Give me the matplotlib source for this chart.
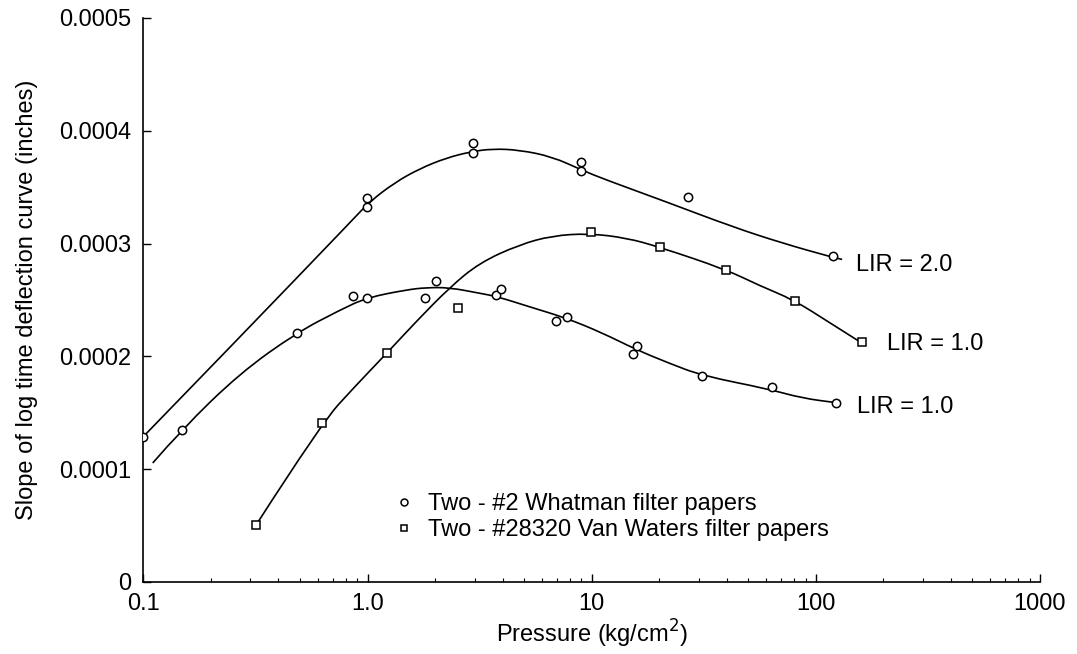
import matplotlib
matplotlib.use("Agg")
import matplotlib.pyplot as plt
import numpy as np
from matplotlib.lines import Line2D
from matplotlib.path import Path
from matplotlib.patches import PathPatch
from matplotlib.ticker import FixedLocator, LogLocator, NullFormatter, NullLocator

plt.rcParams['font.family'] = ['Liberation Sans', 'DejaVu Sans']

# measured points (slope values in units of 1e-4 inches)
whatman_20_x = [0.1, 0.99, 0.99, 2.94, 2.94, 8.98, 8.98, 26.9, 119]
whatman_20_y = [1.285, 3.40, 3.32, 3.89, 3.80, 3.72, 3.64, 3.41, 2.89]

whatman_10_x = [0.148, 0.483, 0.86, 0.99, 1.81, 2.01, 3.76, 3.95, 6.95, 7.78, 15.3, 15.9, 31, 63.9, 123]
whatman_10_y = [1.35, 2.21, 2.535, 2.52, 2.52, 2.67, 2.54, 2.60, 2.31, 2.35, 2.02, 2.09, 1.83, 1.73, 1.59]

vanwaters_x = [0.317, 0.624, 1.22, 2.52, 9.95, 20.2, 39.7, 80.6, 160]
vanwaters_y = [0.505, 1.41, 2.03, 2.43, 3.10, 2.97, 2.77, 2.49, 2.13]

# fitted curves
curve_20_x = [0.1, 0.269, 0.857, 1.02, 1.32, 1.71, 2.25, 2.90, 3.60, 4.75, 6.67, 9.07, 11.4, 21.5, 42.3, 70.6, 118, 131]
curve_20_y = [1.29, 2.17, 3.21, 3.37, 3.54, 3.665, 3.76, 3.815, 3.84, 3.83, 3.77, 3.65, 3.57, 3.37, 3.15, 3.005, 2.88, 2.86]

curve_10_x = [0.110, 0.148, 0.269, 0.483, 0.751, 0.99, 1.49, 1.83, 2.32, 3.16, 3.79, 5.27, 7.69, 11.1, 15.8, 22.1, 31.0, 61.7, 86.7, 123]
curve_10_y = [1.055, 1.35, 1.85, 2.21, 2.41, 2.52, 2.59, 2.61, 2.61, 2.56, 2.53, 2.44, 2.34, 2.21, 2.06, 1.94, 1.83, 1.71, 1.63, 1.59]

curve_vw_x = [0.324, 0.624, 0.875, 1.22, 1.65, 2.32, 3.16, 4.75, 6.67, 9.75, 14.3, 20.0, 39.7, 55.7, 79.8, 114, 160]
curve_vw_y = [0.53, 1.41, 1.73, 2.03, 2.31, 2.61, 2.83, 2.99, 3.07, 3.09, 3.05, 2.97, 2.77, 2.63, 2.50, 2.305, 2.12]

x_ticks = [0.1, 1, 10, 100, 1000]
x_tick_labels = ["0.1", "1.0", "10", "100", "1000"]
y_ticks = [0, 1e-4, 2e-4, 3e-4, 4e-4, 5e-4]
y_tick_labels = ["0", "0.0001", "0.0002", "0.0003", "0.0004", "0.0005"]

labels = ["LIR = 2.0", "LIR = 1.0", "LIR = 1.0"]
label_x = [151, 207, 152]
label_y = [2.81, 2.11, 1.55]

legend_labels = ["Two - #2 Whatman filter papers", "Two - #28320 Van Waters filter papers"]


def smooth_curve(xs, ys):
    # quadratic bezier through the knots (knots act as control points)
    ys = [v * 1e-4 for v in ys]
    lx = np.log10(xs)
    verts = [(xs[0], ys[0])]
    codes = [Path.MOVETO]
    for i in range(1, len(xs) - 1):
        mx = 10 ** ((lx[i] + lx[i + 1]) / 2)
        my = (ys[i] + ys[i + 1]) / 2
        verts += [(xs[i], ys[i]), (mx, my)]
        codes += [Path.CURVE3, Path.CURVE3]
    verts.append((xs[-1], ys[-1]))
    codes.append(Path.LINETO)
    return Path(verts, codes)


fig = plt.figure(figsize=(10.77, 6.54), dpi=100)
ax = fig.add_axes([0.1332, 0.1101, 0.8324, 0.8624])

for cx, cy in [(curve_20_x, curve_20_y), (curve_10_x, curve_10_y), (curve_vw_x, curve_vw_y)]:
    ax.add_patch(PathPatch(smooth_curve(cx, cy), facecolor='none', edgecolor='black', lw=1.2))

mk = dict(linestyle='none', markerfacecolor='white', markeredgecolor='black', markeredgewidth=1.1, zorder=3)
ax.plot(whatman_20_x, [v * 1e-4 for v in whatman_20_y], marker='o', markersize=6, **mk)
ax.plot(whatman_10_x, [v * 1e-4 for v in whatman_10_y], marker='o', markersize=6, **mk)
ax.plot(vanwaters_x, [v * 1e-4 for v in vanwaters_y], marker='s', markersize=6, **mk)

for t, lx, ly in zip(labels, label_x, label_y):
    ax.text(lx, ly * 1e-4, t, fontsize=17, va='center', ha='left')

ax.set_xscale('log')
ax.set_xlim(0.1, 1000)
ax.set_ylim(0, 5e-4)
ax.xaxis.set_major_locator(FixedLocator(x_ticks))
ax.set_xticklabels(x_tick_labels)
ax.xaxis.set_minor_locator(LogLocator(base=10, subs=range(2, 10)))
ax.xaxis.set_minor_formatter(NullFormatter())
ax.set_yticks(y_ticks)
ax.set_yticklabels(y_tick_labels)
ax.yaxis.set_minor_locator(NullLocator())

ax.tick_params(axis='both', which='major', direction='in', length=6, width=1, labelsize=17)
ax.tick_params(axis='y', which='major', pad=9)
ax.tick_params(axis='x', which='major', pad=8)
ax.tick_params(axis='x', which='minor', direction='in', length=3, width=0.8)
ax.spines['top'].set_visible(False)
ax.spines['right'].set_visible(False)
ax.spines['left'].set_linewidth(1.2)
ax.spines['bottom'].set_linewidth(1.2)

ax.set_xlabel("Pressure (kg/cm$^2$)", fontsize=17, labelpad=2)
ax.set_ylabel("Slope of log time deflection curve (inches)", fontsize=17, labelpad=15)

handles = [
    Line2D([], [], marker='o', markersize=5, **mk),
    Line2D([], [], marker='s', markersize=5, **mk),
]
ax.legend(handles, legend_labels, loc='upper left', bbox_to_anchor=(0.27, 0.174),
          frameon=False, fontsize=17, handlelength=0.8, handletextpad=0.6,
          labelspacing=0.15, borderaxespad=0)

fig.savefig("out.png", dpi=100)
